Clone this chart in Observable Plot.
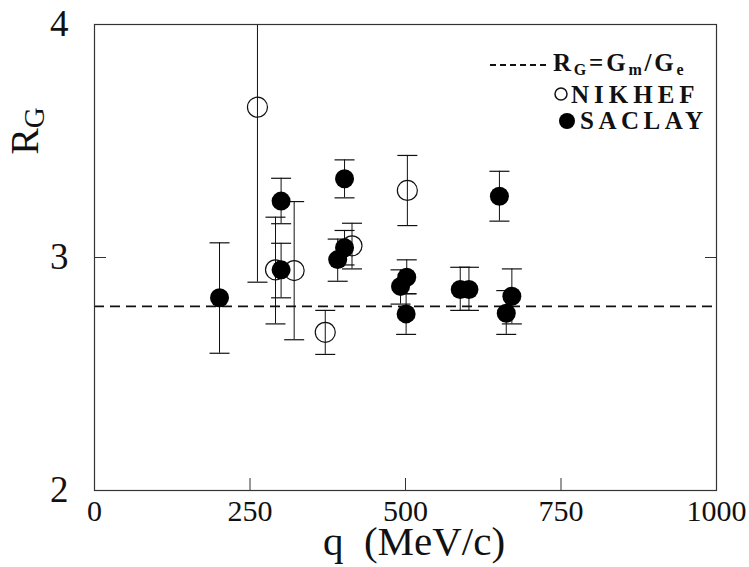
<!DOCTYPE html>
<html><head><meta charset="utf-8">
<script src="https://cdn.jsdelivr.net/npm/d3@7"></script>
<script src="https://cdn.jsdelivr.net/npm/@observablehq/plot@0.6"></script>
<style>
html,body{margin:0;padding:0;background:#fff;}
#wrap{position:relative;width:749px;height:567px;overflow:hidden;background:#fff;}
#wrap svg{position:absolute;left:0;top:0;}
#wrap svg, #wrap svg text{font-family:"Liberation Serif","DejaVu Serif","Times New Roman",serif !important;}
</style></head><body>
<div id="wrap"></div>
<script>
// NIKHEF (open circles)
const nikhefQ  = [262, 291, 321, 371, 414, 503];
const nikhefR  = [3.645, 2.947, 2.944, 2.679, 3.050, 3.288];
const nikhefLo = [2.894, 2.715, 2.647, 2.584, 2.951, 3.137];
const nikhefHi = [4.400, 3.173, 3.240, 2.773, 3.147, 3.438];

// SACLAY (filled circles)
const saclayQ  = [201, 300, 300, 391, 402, 402, 492, 502, 501, 588, 602, 651, 662, 671];
const saclayR  = [2.827, 3.242, 2.947, 2.991, 3.042, 3.338, 2.876, 2.915, 2.758, 2.863, 2.863, 3.263, 2.761, 2.834];
const saclayLo = [2.589, 3.145, 2.827, 2.898, 2.968, 3.256, 2.800, 2.844, 2.670, 2.773, 2.773, 3.156, 2.670, 2.715];
const saclayHi = [3.063, 3.340, 3.061, 3.079, 3.116, 3.419, 2.947, 2.990, 2.845, 2.958, 2.958, 3.370, 2.858, 2.951];

// R_G = G_m/G_e reference line
const ratioLine = [2.79];

const xTicks = [0, 250, 500, 750, 1000];
const xInnerTicks = [250, 500, 750];
const yTicks = [2, 3, 4];
const yInnerTicks = [3];

const nikhef = nikhefQ.map((q, i) => ({q, r: nikhefR[i], lo: nikhefLo[i], hi: nikhefHi[i]}));
const saclay = saclayQ.map((q, i) => ({q, r: saclayR[i], lo: saclayLo[i], hi: saclayHi[i]}));
const all = nikhef.concat(saclay);

const cap = {draw(ctx, size) { const r = Math.sqrt(size / Math.PI); ctx.moveTo(-r, 0); ctx.lineTo(r, 0); }};
const ink = "#111";
const fmt = d => String(d);
const noText = () => "";

const chart = Plot.plot({
  width: 749, height: 567,
  marginLeft: 94, marginRight: 33, marginTop: 24, marginBottom: 77,
  x: {domain: [0, 1000]},
  y: {domain: [2, 4]},
  style: {fontFamily: "Liberation Serif, DejaVu Serif, serif", color: ink, background: "transparent", overflow: "visible"},
  marks: [
    Plot.ruleY(ratioLine, {stroke: ink, strokeWidth: 1.7, strokeDasharray: "10,6"}),
    Plot.ruleX(all, {x: "q", y1: "lo", y2: "hi", stroke: ink, strokeWidth: 1, clip: true}),
    Plot.dot(all, {x: "q", y: "lo", symbol: cap, r: 10, stroke: ink, strokeWidth: 1.2, clip: true}),
    Plot.dot(all, {x: "q", y: "hi", symbol: cap, r: 10, stroke: ink, strokeWidth: 1.2, clip: true}),
    Plot.dot(nikhef, {x: "q", y: "r", r: 10, stroke: ink, strokeWidth: 1.2, fill: "none"}),
    Plot.dot(saclay, {x: "q", y: "r", r: 9.5, fill: "#000", stroke: "none"}),
    Plot.frame({stroke: "#333", strokeWidth: 1.2}),
    Plot.axisX({ticks: xTicks, tickSize: 0, tickPadding: 9, fontSize: 30, tickFormat: fmt, label: null}),
    Plot.axisX({ticks: xInnerTicks, tickSize: -12, tickFormat: noText, label: null, stroke: "#333"}),
    Plot.axisY({ticks: yTicks, tickSize: 0, tickPadding: 26, fontSize: 37, tickFormat: fmt, label: null}),
    Plot.axisY({ticks: yInnerTicks, tickSize: -12, tickFormat: noText, label: null, stroke: "#333"}),
    Plot.axisY({anchor: "right", ticks: yInnerTicks, tickSize: -12, tickFormat: noText, label: null, stroke: "#333"})
  ]
});
document.getElementById("wrap").appendChild(chart);

// Overlay: axis titles and legend
const ov = d3.select("#wrap").append("svg")
  .attr("width", 749).attr("height", 567)
  .attr("font-family", "Liberation Serif, DejaVu Serif, serif")
  .style("pointer-events", "none");

// y title R_G
const yt = ov.append("text").attr("transform", "translate(38,131) rotate(-90)")
  .attr("text-anchor", "middle").attr("fill", ink).attr("font-size", 40);
yt.append("tspan").text("R");
yt.append("tspan").attr("font-size", 29).attr("dy", 6).text("G");

// x title
ov.append("text").attr("x", 414).attr("y", 555).attr("text-anchor", "middle")
  .attr("fill", ink).attr("font-size", 41).attr("xml:space", "preserve").text("q  (MeV/c)");

// legend
const lg = ov.append("g").attr("fill", ink).attr("font-weight", "bold");
lg.append("line").attr("x1", 490).attr("x2", 548).attr("y1", 65).attr("y2", 65)
  .attr("stroke", ink).attr("stroke-width", 2).attr("stroke-dasharray", "6,4");
const t1 = lg.append("text").attr("x", 553).attr("y", 71).attr("font-size", 25).attr("letter-spacing", 2.8);
t1.append("tspan").text("R");
t1.append("tspan").attr("font-size", 16).attr("dy", 4).text("G");
t1.append("tspan").attr("dy", -4).text("=G");
t1.append("tspan").attr("font-size", 16).attr("dy", 4).text("m");
t1.append("tspan").attr("dy", -4).text("/G");
t1.append("tspan").attr("font-size", 16).attr("dy", 4).text("e");
lg.append("circle").attr("cx", 561).attr("cy", 94).attr("r", 6).attr("fill", "none")
  .attr("stroke", ink).attr("stroke-width", 1.5);
lg.append("text").attr("x", 571).attr("y", 103).attr("font-size", 25).attr("letter-spacing", 5).text("NIKHEF");
lg.append("circle").attr("cx", 567).attr("cy", 121).attr("r", 8).attr("fill", "#000");
lg.append("text").attr("x", 580).attr("y", 129).attr("font-size", 25).attr("letter-spacing", 4.5).text("SACLAY");
</script>
</body></html>
